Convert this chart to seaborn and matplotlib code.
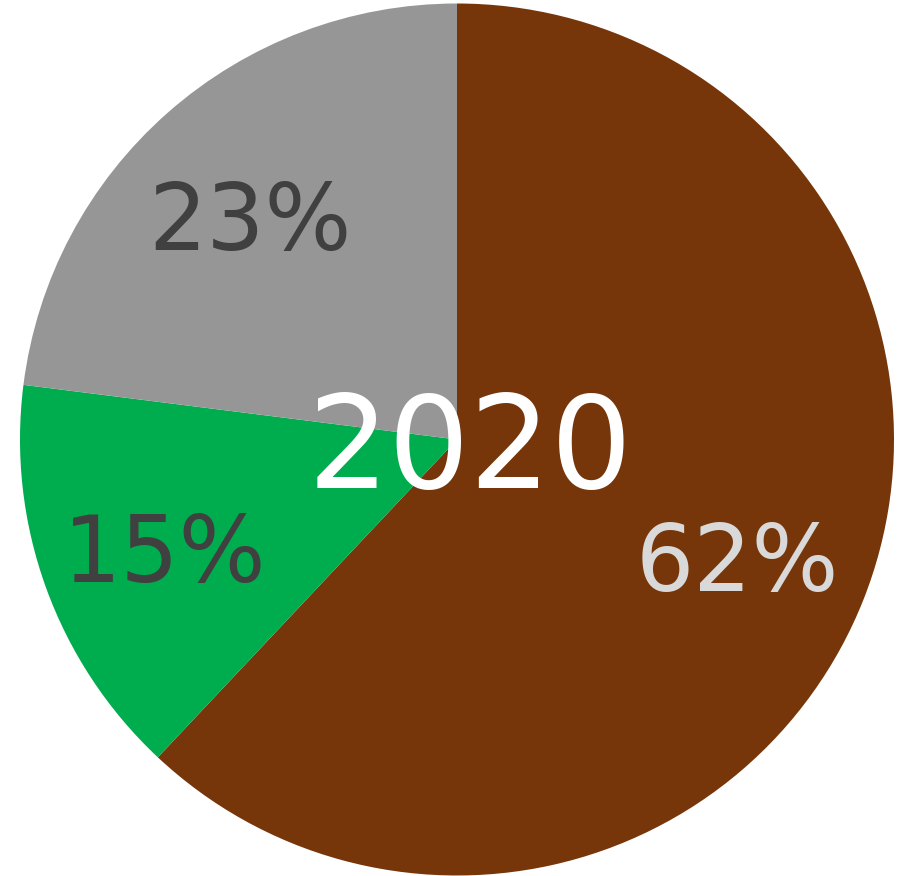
import matplotlib
matplotlib.use("Agg")
import seaborn as sns
import matplotlib.pyplot as plt

sns.set_theme(style="white")
plt.rcParams['font.family'] = ['DejaVu Sans']

# data
categories = ['Brown', 'Green', 'Gray']
shares = [62, 15, 23]
colors = ['#763609', '#00ad4e', '#969696']
label_colors = ['#d9d9d9', '#404040', '#404040']
year = '2020'

fig = plt.figure(figsize=(8.97, 8.76), dpi=100)
ax = fig.add_axes([20 / 897, 0.5 / 876, 874 / 897, 872 / 876])

wedges, texts, autotexts = ax.pie(
    shares, colors=colors, startangle=90, counterclock=False,
    autopct='%1.0f%%', pctdistance=0.70, radius=1,
    wedgeprops=dict(linewidth=0),
    textprops=dict(fontsize=66),
)
for t, c in zip(autotexts, label_colors):
    t.set_color(c)
    x, y = t.get_position()
    t.set_position((x - 0.01, y - 0.03))

ax.text(0.03, -0.03, year, ha='center', va='center', fontsize=92, color='white')
ax.set_xlim(-1, 1)
ax.set_ylim(-1, 1)
ax.set_aspect('auto')
ax.axis('off')

fig.savefig('out.png', dpi=100)
